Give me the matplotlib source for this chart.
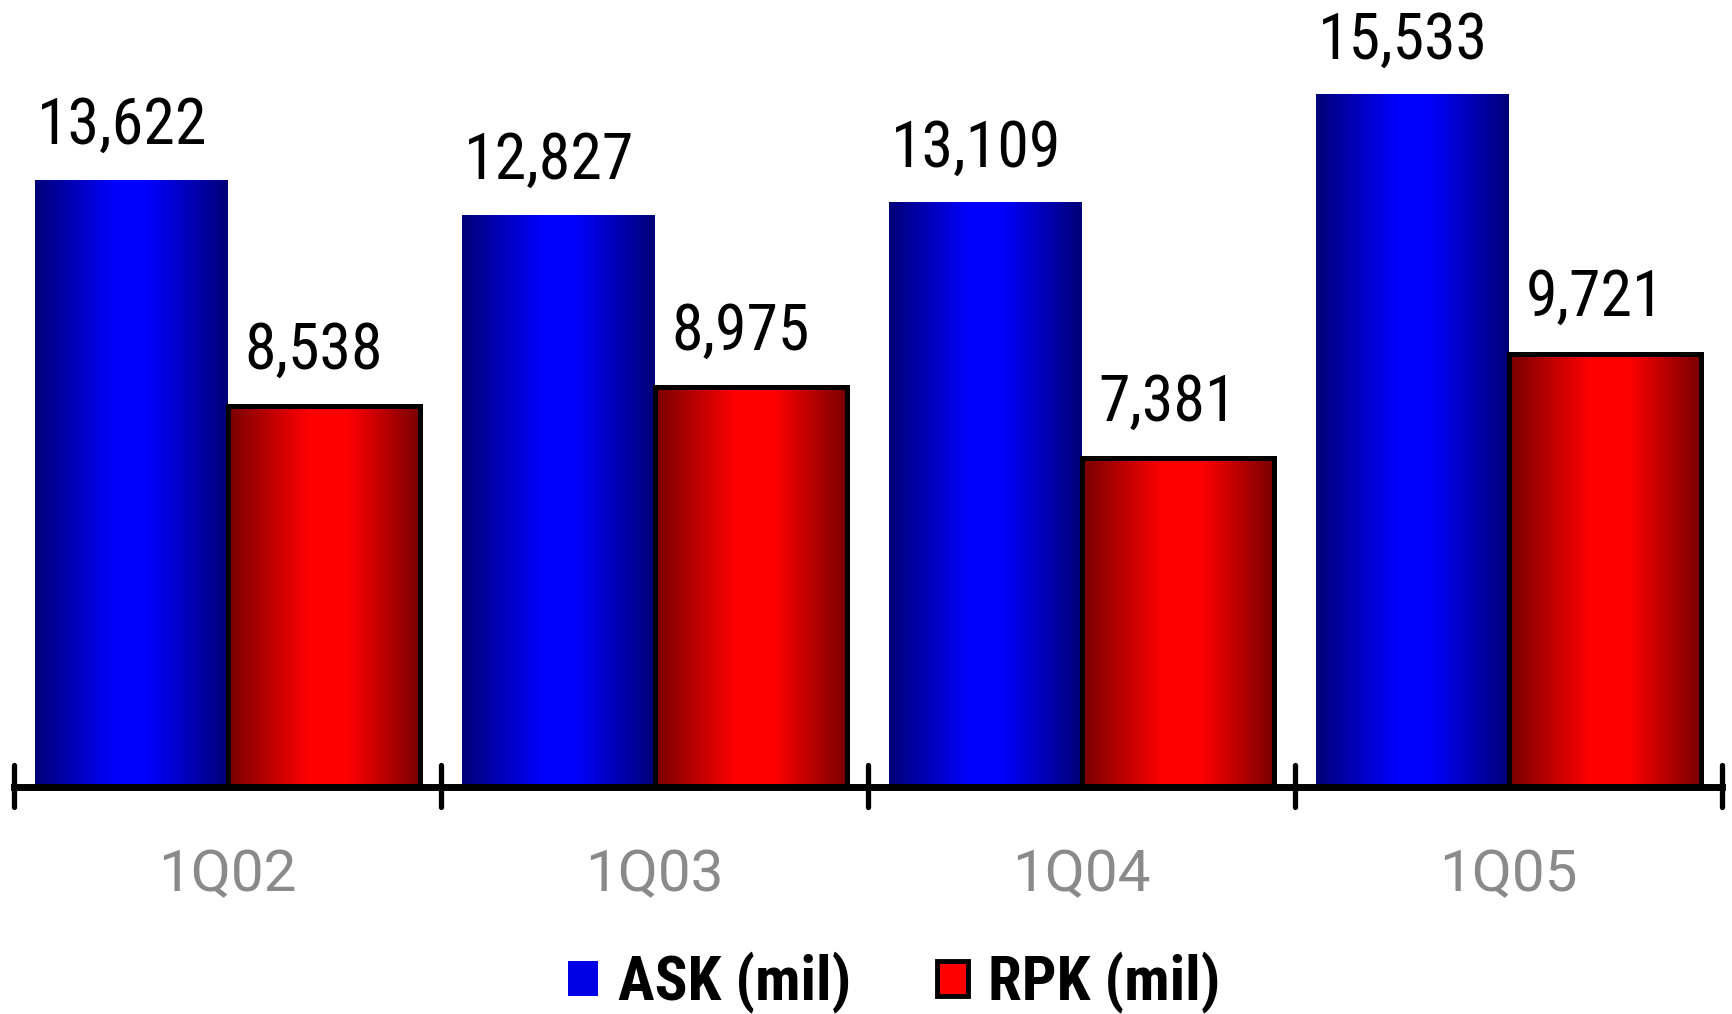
import numpy as np
import matplotlib
matplotlib.use("Agg")
import matplotlib.pyplot as plt
from matplotlib.colors import LinearSegmentedColormap
from matplotlib.patches import Patch

# Quarterly traffic figures
quarters = ["1Q02", "1Q03", "1Q04", "1Q05"]
ask_values = [13622, 12827, 13109, 15533]
rpk_values = [8538, 8975, 7381, 9721]
legend_labels = ["ASK (mil)", "RPK (mil)"]

NARROW = ["Liberation Sans Narrow", "Roboto Condensed", "DejaVu Sans"]

fig = plt.figure(figsize=(17.32, 10.14), dpi=100)
ax = fig.add_axes([14 / 1732, (1014 - 787) / 1014, 1708 / 1732, 787 / 1014])

blue_cmap = LinearSegmentedColormap.from_list(
    "bluegrad", [(0.0, "#000078"), (0.42, "#0000ff"), (0.58, "#0000ff"), (1.0, "#000078")])
red_cmap = LinearSegmentedColormap.from_list(
    "redgrad", [(0.0, "#780000"), (0.42, "#ff0000"), (0.62, "#ff0000"), (1.0, "#780000")])

x = np.arange(len(quarters))
width = 0.45
grad = np.linspace(0, 1, 256).reshape(1, -1)
YMAX = 17650


def gradient_bars(xpos, values, cmap, edge, lw):
    bars = ax.bar(xpos, values, width=width, align="edge", facecolor="none",
                  edgecolor=edge, linewidth=lw, zorder=3)
    for b in bars:
        x0, w, h = b.get_x(), b.get_width(), b.get_height()
        im = ax.imshow(grad, cmap=cmap, aspect="auto", extent=[x0, x0 + w, 0, h],
                       zorder=2, interpolation="bilinear")
        im.set_clip_path(b)
    return bars


gradient_bars(x - width, ask_values, blue_cmap, "none", 0)
gradient_bars(x, rpk_values, red_cmap, "black", 3.6)

for xi, v in zip(x, ask_values):
    ax.annotate(f"{v:,}", (xi - width / 2, v), xytext=(-7, 26), textcoords="offset points",
                ha="center", va="baseline", fontsize=46, family=NARROW, color="black")
for xi, v in zip(x, rpk_values):
    ax.annotate(f"{v:,}", (xi + width / 2, v), xytext=(-7, 27), textcoords="offset points",
                ha="center", va="baseline", fontsize=46, family=NARROW, color="black")

for s in ["top", "left", "right"]:
    ax.spines[s].set_visible(False)
ax.spines["bottom"].set_linewidth(5)
ax.spines["bottom"].set_color("black")
ax.set_yticks([])

ax.set_xticks(x)
ax.set_xticklabels(quarters)
ax.tick_params(axis="x", which="major", length=0, pad=44, labelsize=42, labelcolor="#8a8a8a")
for lbl in ax.get_xticklabels():
    lbl.set_family(["Roboto", "DejaVu Sans"])

# Group separators crossing the baseline
for xb in np.arange(-0.5, len(quarters), 1.0):
    ax.plot([xb, xb], [-20 * YMAX / 787, 22 * YMAX / 787], color="black", lw=3.8,
            solid_capstyle="round", clip_on=False, zorder=5)

ax.set_xlim(-0.5, len(quarters) - 0.5)
ax.set_ylim(0, YMAX)

handles = [Patch(facecolor="#0000e6", edgecolor="none"),
           Patch(facecolor="#ff0000", edgecolor="black", linewidth=3.5)]
leg = fig.legend(handles, legend_labels, ncol=2, loc="center",
                 bbox_to_anchor=(894 / 1732, 1 - 983 / 1014), frameon=False,
                 prop={"family": NARROW, "weight": "bold", "size": 44},
                 handlelength=0.5, handleheight=0.5, handletextpad=0.33,
                 columnspacing=1.4, borderaxespad=0, borderpad=0)

fig.savefig("out.png", dpi=100)
